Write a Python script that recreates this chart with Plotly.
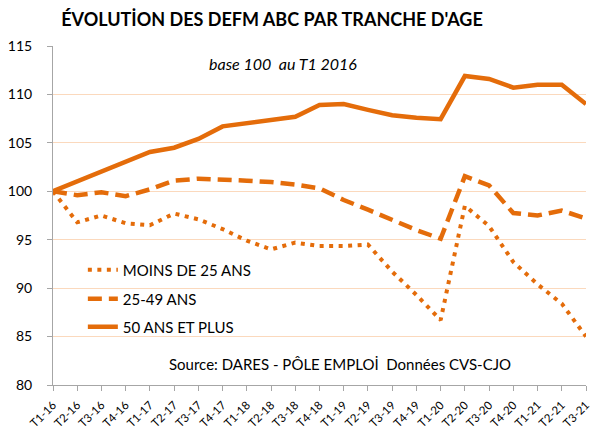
import plotly.graph_objects as go

quarters = ["T1-16", "T2-16", "T3-16", "T4-16", "T1-17", "T2-17", "T3-17", "T4-17",
            "T1-18", "T2-18", "T3-18", "T4-18", "T1-19", "T2-19", "T3-19", "T4-19",
            "T1-20", "T2-20", "T3-20", "T4-20", "T1-21", "T2-21", "T3-21"]

moins_25 = [100, 96.8, 97.5, 96.7, 96.5, 97.7, 97.1, 96.1, 94.9, 94.0, 94.7, 94.35,
            94.35, 94.5, 91.7, 89.3, 86.7, 98.5, 96.4, 92.7, 90.4, 88.4, 85.0]

ans_25_49 = [100, 99.6, 99.9, 99.5, 100.2, 101.1, 101.3, 101.25, 101.1, 100.95, 100.7, 100.3,
             99.1, 98.1, 97.0, 96.0, 95.1, 101.55, 100.6, 97.75, 97.5, 98.0, 97.2]

plus_50 = [100, 101.0, 102.05, 103.05, 104.06, 104.5, 105.4, 106.7, 107.05, 107.4, 107.7, 108.9,
           109.0, 108.4, 107.85, 107.6, 107.45, 111.9, 111.6, 110.7, 111.0, 111.0, 109.0]

names = ["MOINS DE 25 ANS", "25-49 ANS", "50 ANS ET PLUS"]
y_ticks = [80, 85, 90, 95, 100, 105, 110, 115]

ORANGE = "#E46C0A"
FONT = "Lato, 'Open Sans', sans-serif"

fig = go.Figure()
fig.add_trace(go.Scatter(x=quarters, y=moins_25, mode="lines", name=names[0],
                         line=dict(color=ORANGE, width=4, dash="4px,5.5px"),
                         legend="legend", showlegend=True))
fig.add_trace(go.Scatter(x=quarters, y=ans_25_49, mode="lines", name=names[1],
                         line=dict(color=ORANGE, width=4.5, dash="14px,7px"),
                         legend="legend2", showlegend=True))
fig.add_trace(go.Scatter(x=quarters, y=plus_50, mode="lines", name=names[2],
                         line=dict(color=ORANGE, width=4.5),
                         legend="legend3", showlegend=True))

leg_common = dict(x=0.056, xanchor="left", yanchor="middle", bgcolor="rgba(0,0,0,0)",
                  font=dict(family=FONT, size=15, color="#000000"))

fig.update_layout(
    width=590, height=432,
    showlegend=True,
    margin=dict(l=53, r=4, t=46, b=47, autoexpand=False),
    paper_bgcolor="white", plot_bgcolor="white",
    font=dict(family=FONT, color="#000000"),
    title=dict(text="<b>ÉVOLUTİON DES DEFM ABC PAR TRANCHE D'AGE</b>",
               x=272 / 590, xanchor="center", y=1 - 20 / 432, yanchor="middle",
               font=dict(family=FONT, size=18, color="#000000")),
    xaxis=dict(type="category", range=[0, len(quarters) - 1],
               showgrid=False, showline=True, linecolor="#A6A6A6", linewidth=1,
               ticks="outside", ticklen=5, tickcolor="#A6A6A6", tickangle=-45,
               ticklabelstandoff=3,
               tickfont=dict(family=FONT, size=11.5, color="#000000"),
               automargin=False),
    yaxis=dict(range=[80, 115], tickvals=y_ticks, showgrid=True, gridcolor="#FBD9BD",
               gridwidth=1, showline=True, linecolor="#A6A6A6", linewidth=1,
               ticks="outside", ticklen=5, tickcolor="#A6A6A6", ticklabelstandoff=12,
               tickfont=dict(family=FONT, size=14, color="#000000"),
               zeroline=False, automargin=False),
    legend=dict(y=(385 - 270) / 339, **leg_common),
    legend2=dict(y=(385 - 299) / 339, **leg_common),
    legend3=dict(y=(385 - 327) / 339, **leg_common),
    annotations=[
        dict(text="<i>base 100\u00a0 au T1 2016</i>", xref="paper", yref="paper",
             x=(283 - 53) / 533, y=(385 - 64) / 339, showarrow=False,
             xanchor="center", yanchor="middle",
             font=dict(family=FONT, size=16, color="#000000")),
        dict(text="Source: DARES - PÔLE EMPLOİ\u00a0 Données CVS-CJO", xref="paper", yref="paper",
             x=(340 - 53) / 533, y=(385 - 364) / 339, showarrow=False,
             xanchor="center", yanchor="middle",
             font=dict(family=FONT, size=15, color="#000000")),
    ],
)

fig.write_html("out.html",
               config={"displayModeBar": False},
               post_script="document.body.style.margin='0px';document.body.style.padding='0px';")
